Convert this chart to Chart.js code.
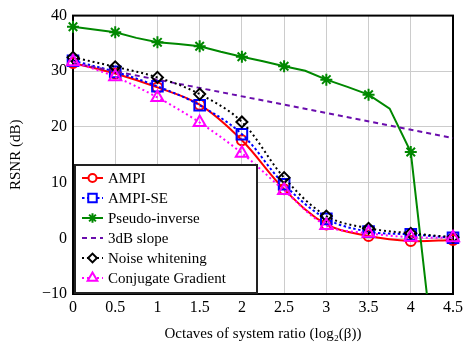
<!DOCTYPE html>
<html>
<head>
<meta charset="UTF-8">
<title>RSNR vs octaves</title>
<script src="https://cdn.jsdelivr.net/npm/chart.js"></script>
<style>
  body { margin: 0; background: #fff; }
  #wrap { width: 467px; height: 347px; }
</style>
</head>
<body>
<div id="wrap"><canvas id="rsnr"></canvas></div>
<script>
  // x positions (octaves)
  const octaves = [0, 0.5, 1, 1.5, 2, 2.5, 3, 3.5, 4, 4.5];
  const ampi = [31.5, 29.6, 27.1, 24.0, 17.6, 8.8, 2.5, 0.4, -0.5, -0.3];
  const ampiSe = [31.9, 29.9, 27.3, 23.9, 18.7, 9.7, 3.5, 1.2, 0.7, 0.1];
  const noiseWhitening = [32.5, 30.8, 28.9, 25.9, 20.9, 10.9, 4.0, 1.8, 0.9, 0.2];
  const conjGrad = [31.7, 29.0, 25.3, 20.8, 15.3, 8.6, 2.3, 0.9, 0.2, 0.1];

  // pseudo-inverse is sampled finer, markers only on the half octaves
  const pinvX = [0, 0.25, 0.5, 0.75, 1, 1.25, 1.5, 1.75, 2, 2.25, 2.5, 2.75, 3, 3.25, 3.5, 3.75, 4, 4.25];
  const pinvY = [38.0, 37.5, 37.0, 36.0, 35.2, 34.9, 34.5, 33.5, 32.6, 31.8, 30.9, 30.1, 28.5, 27.2, 25.8, 23.3, 15.5, -18];

  const slopeX = [0, 4.5];
  const slopeY = [31.5, 18.0];

  const yTicks = [-10, 0, 10, 20, 30, 40];
  const xTicks = ['0', '0.5', '1', '1.5', '2', '2.5', '3', '3.5', '4', '4.5'];

  const pts = (xs, ys) => xs.map((x, i) => ({ x: x, y: ys[i] }));
  const serif = "'Liberation Serif', 'DejaVu Serif', serif";

  const series = [
    { label: 'AMPI', data: pts(octaves, ampi), color: '#ff0000', style: 'circle', r: 5, dash: [], tension: 0.35 },
    { label: 'AMPI-SE', data: pts(octaves, ampiSe), color: '#0000ff', style: 'rect', r: 7.5, dash: [2.5, 2.5], tension: 0.35 },
    { label: 'Pseudo-inverse', data: pts(pinvX, pinvY), color: '#008800', style: 'star', r: 6, dash: [], tension: 0,
      radii: pinvX.map((x, i) => (i % 2 === 0 && x <= 4) ? 6 : 0) },
    { label: '3dB slope', data: pts(slopeX, slopeY), color: '#6a0dad', style: false, r: 0, dash: [5, 4], tension: 0 },
    { label: 'Noise whitening', data: pts(octaves, noiseWhitening), color: '#000000', style: 'rectRot', r: 5.5, dash: [2, 3], tension: 0.35 },
    { label: 'Conjugate Gradient', data: pts(octaves, conjGrad), color: '#ff00ff', style: 'triangle', r: 7, dash: [2, 3], tension: 0.35 }
  ];

  const datasets = series.map((s, i) => ({
    label: s.label,
    data: s.data,
    borderColor: s.color,
    borderWidth: 2,
    borderDash: s.dash,
    tension: s.tension,
    pointStyle: s.style,
    pointRadius: s.radii || s.r,
    pointBorderColor: s.color,
    pointBackgroundColor: 'rgba(0,0,0,0)',
    pointBorderWidth: 2,
    order: -i,
    clip: s.label === 'Pseudo-inverse' ? { left: 10, right: 10, top: 10, bottom: 0 } : false
  }));

  // frame around plot area
  const framePlugin = {
    id: 'frame',
    beforeDatasetsDraw(chart) {
      const a = chart.chartArea, ctx = chart.ctx;
      ctx.save();
      ctx.strokeStyle = '#000';
      ctx.lineWidth = 2;
      ctx.strokeRect(a.left, a.top, a.right - a.left, a.bottom - a.top);
      ctx.restore();
    }
  };

  // legend drawn inside the plot, bottom-left
  const boxLegend = {
    id: 'boxLegend',
    afterDatasetsDraw(chart) {
      const a = chart.chartArea, ctx = chart.ctx;
      const left = a.left + 1, top = 165, right = 257, bottom = a.bottom - 1;
      ctx.save();
      ctx.fillStyle = '#fff';
      ctx.fillRect(left, top, right - left, bottom - top);
      ctx.strokeStyle = '#222';
      ctx.lineWidth = 2;
      ctx.strokeRect(left + 1, top, right - left - 1, bottom - top);
      series.forEach((s, i) => {
        const y = 178 + i * 20;
        ctx.strokeStyle = s.color;
        ctx.lineWidth = 2;
        ctx.setLineDash(s.dash);
        ctx.beginPath();
        ctx.moveTo(82, y);
        ctx.lineTo(103, y);
        ctx.stroke();
        ctx.setLineDash([]);
        if (s.style) {
          ctx.strokeStyle = s.color;
          ctx.fillStyle = '#fff';
          ctx.lineWidth = 2;
          Chart.helpers.drawPoint(ctx, { pointStyle: s.style, radius: s.r * 0.8, rotation: 0, borderWidth: 2 }, 92.5, y);
        }
        ctx.fillStyle = '#000';
        ctx.font = '15px ' + serif;
        ctx.textBaseline = 'middle';
        ctx.fillText(s.label, 108, y + 1);
      });
      ctx.restore();
    }
  };

  new Chart(document.getElementById('rsnr'), {
    type: 'line',
    data: { datasets: datasets },
    options: {
      responsive: true,
      maintainAspectRatio: false,
      animation: false,
      layout: { padding: { top: 10, right: 9, left: 3, bottom: 0 } },
      plugins: { legend: { display: false }, tooltip: { enabled: false } },
      scales: {
        x: {
          type: 'linear',
          min: 0, max: 4.5,
          afterBuildTicks: (scale) => { scale.ticks = xTicks.map(v => ({ value: parseFloat(v) })); },
          ticks: {
            callback: (v) => xTicks.find(t => parseFloat(t) === v),
            color: '#000', font: { family: serif, size: 16 }, padding: 4, maxRotation: 0
          },
          grid: { color: '#cccccc', lineWidth: 1, drawTicks: false },
          border: { display: false },
          title: { display: true, text: 'Octaves of system ratio (log\u2082(\u03b2))', color: '#000', font: { family: serif, size: 15 }, padding: { top: 2 } },
          afterFit: (scale) => { scale.height = 53; }
        },
        y: {
          min: -10, max: 40,
          afterBuildTicks: (scale) => { scale.ticks = yTicks.map(v => ({ value: v })); },
          ticks: {
            callback: (v) => String(v).replace('-', '\u2212'),
            color: '#000', font: { family: serif, size: 16 }, padding: 6
          },
          grid: { color: '#cccccc', lineWidth: 1, drawTicks: false },
          border: { display: false },
          title: { display: true, text: 'RSNR (dB)', color: '#000', font: { family: serif, size: 15 }, padding: { bottom: 2 } },
          afterFit: (scale) => { scale.width = 70; }
        }
      }
    },
    plugins: [framePlugin, boxLegend]
  });
</script>
</body>
</html>
